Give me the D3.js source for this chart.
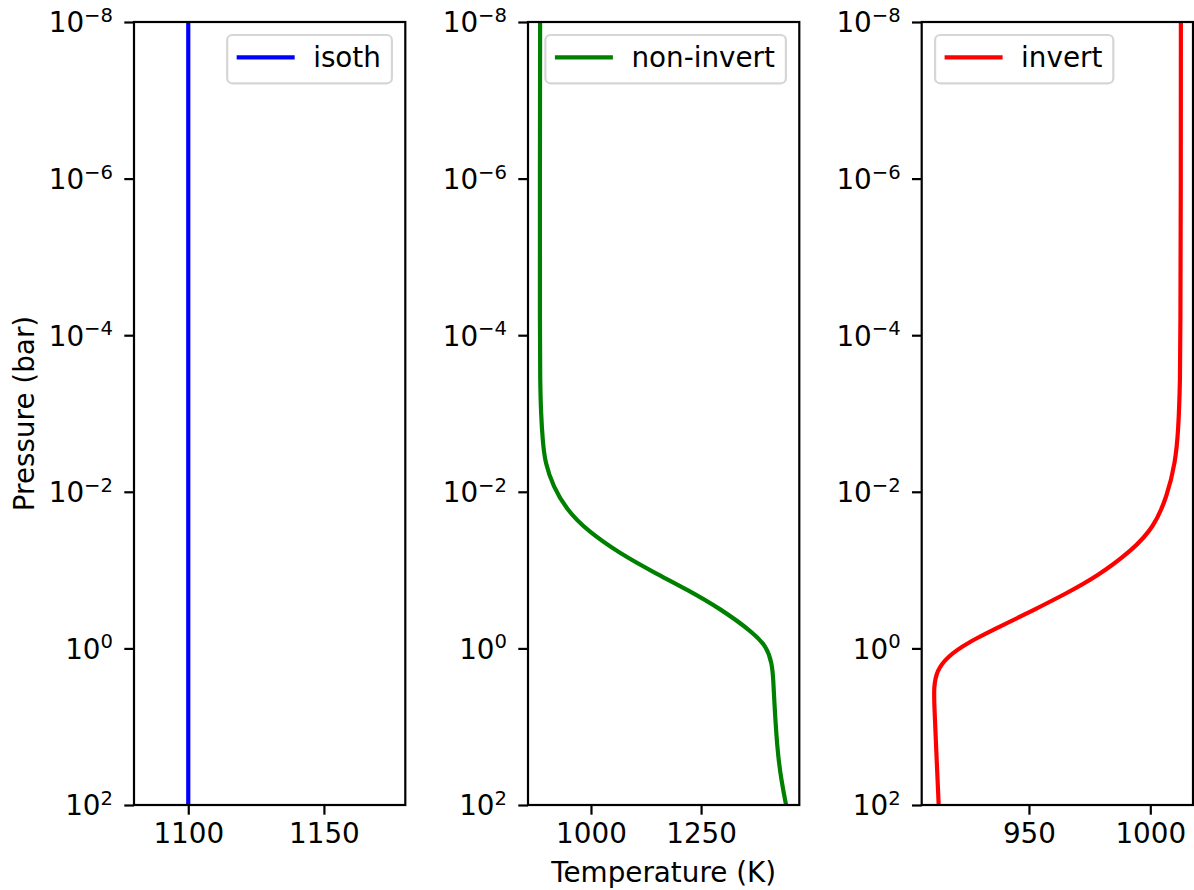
<!DOCTYPE html>
<html lang="en">
	<head>
		<meta charset="utf-8">
		<title>Temperature profiles</title>
		<script type="text/javascript" src="https://d3js.org/d3.v7.min.js"></script>
		<style type="text/css">
			body{
				margin: 0;
				background: #fff;
			}
			svg{
				display: block;
				font-family: "DejaVu Sans", sans-serif;
			}
		</style>
	</head>
	<body>
		<script type="text/javascript">

			// pressure levels (bar) and temperatures (K)
			var isothP = [1e-8, 1e2];
			var isothT = [1100, 1100];

			var nonInvP = [1e-8, 1e-6, 1e-4, 3.7e-4, 1e-3, 2.3e-3, 4.27e-3, 8.5e-3, 1.7e-2, 3.09e-2, 6.17e-2,
						   0.11, 0.178, 0.309, 0.631, 0.955, 1.55, 2.51, 4.57, 20, 47.9, 100];
			var nonInvT = [884.5, 884, 884, 884.5, 886.5, 890.5, 896, 914, 945, 990, 1066,
						   1147, 1219, 1293, 1369, 1399, 1411, 1414, 1416, 1423, 1432, 1443];

			var invP = [1e-8, 1e-6, 1e-4, 3.7e-4, 1.62e-3, 4.27e-3, 1.15e-2, 2.82e-2, 5.5e-2, 0.12,
						0.2, 0.324, 0.525, 0.851, 1.29, 1.91, 3.09, 6.17, 20, 100];
			var invT = [1012.6, 1012.6, 1012.4, 1012.3, 1011.6, 1010.3, 1006.9, 1001.5, 992.8, 978.2,
						965.2, 951.9, 938.2, 924.5, 916.2, 912.1, 910.7, 911.1, 911.8, 912.8];

			var names = ["isoth", "non-invert", "invert"];
			var colors = ["#0000ff", "#008000", "#ff0000"];
			var xDomains = [[1080, 1180], [857, 1473], [905.8, 1017.6]];
			var xTicks = [[1100, 1150], [1000, 1250], [950, 1000]];
			var yTickExp = [-8, -6, -4, -2, 0, 2];
			var legendLoc = ["right", "right", "left"];

			var W = 1194, H = 890;
			var fs = 27.8;
			var lefts = [134, 528, 921.7];
			var pw = 271.3;
			var plotTop = 22, plotBottom = 805;

			var svg = d3.select("body")
						.append("svg")
						.attr("width", W)
						.attr("height", H);

			var y = d3.scaleLog()
					.domain([1e2, 1e-8])
					.range([plotBottom, plotTop]);

			var series = [
				{p: isothP, t: isothT},
				{p: nonInvP, t: nonInvT},
				{p: invP, t: invT}
			];

			series.forEach(function(s, i) {
				var x0 = lefts[i];
				var x = d3.scaleLinear()
						.domain(xDomains[i])
						.range([x0, x0 + pw]);

				var g = svg.append("g").attr("class", "panel");

				// data line, basis spline to smooth reading noise
				var line = d3.line()
							.x(function(d) {return x(d[1]);})
							.y(function(d) {return y(d[0]);})
							.curve(d3.curveBasis);

				var pts = s.p.map(function(p, k) {return [p, s.t[k]];});

				g.append("clipPath")
					.attr("id", "clip" + i)
					.append("rect")
					.attr("x", x0).attr("y", plotTop)
					.attr("width", pw).attr("height", plotBottom - plotTop);

				g.append("path")
					.datum(pts)
					.attr("clip-path", "url(#clip" + i + ")")
					.attr("d", line)
					.attr("fill", "none")
					.attr("stroke", colors[i])
					.attr("stroke-width", 4.2);

				// x axis
				var xAxis = g.append("g")
							.attr("transform", "translate(0," + plotBottom + ")")
							.call(d3.axisBottom(x)
								.tickValues(xTicks[i])
								.tickSize(9.7)
								.tickPadding(9)
								.tickFormat(d3.format("d")));
				xAxis.select(".domain").remove();
				xAxis.selectAll(".tick line").attr("stroke-width", 2.2);
				xAxis.selectAll(".tick text")
					.attr("font-size", fs)
					.attr("font-family", "DejaVu Sans")
					.attr("fill", "#000");

				// y axis, superscript labels done by hand
				var yAxis = g.append("g")
							.attr("transform", "translate(" + x0 + ",0)")
							.call(d3.axisLeft(y)
								.tickValues(yTickExp.map(function(e) {return Math.pow(10, e);}))
								.tickSize(9.7)
								.tickFormat(""));
				yAxis.select(".domain").remove();
				yAxis.selectAll(".tick line").attr("stroke-width", 2.2);
				yAxis.selectAll(".tick text").remove();

				var lab = g.selectAll(".ylab")
							.data(yTickExp)
							.enter()
							.append("text")
							.attr("class", "ylab")
							.attr("x", x0 - 21)
							.attr("y", function(d) {return y(Math.pow(10, d)) + 10.3;})
							.attr("text-anchor", "end")
							.attr("font-size", fs)
							.attr("fill", "#000");
				lab.append("tspan").text("10");
				lab.append("tspan")
					.attr("dy", -10.4)
					.attr("font-size", 19.6)
					.text(function(d) {return d < 0 ? "\u2212" + (-d) : "" + d;});

				// frame
				g.append("rect")
					.attr("x", x0).attr("y", plotTop)
					.attr("width", pw).attr("height", plotBottom - plotTop)
					.attr("fill", "none")
					.attr("stroke", "#000")
					.attr("stroke-width", 2.2);

				// legend
				var leg = g.append("g");
				var txt = leg.append("text")
							.attr("font-size", fs)
							.attr("fill", "#000")
							.text(names[i]);
				var tw = txt.node().getComputedTextLength();
				var bw = 86 + tw + 11;
				var bx = legendLoc[i] == "right" ? x0 + pw - 13.4 - bw : x0 + 13.4;
				var by = 35;
				leg.insert("rect", "text")
					.attr("x", bx).attr("y", by)
					.attr("width", bw).attr("height", 48.3)
					.attr("rx", 5).attr("ry", 5)
					.attr("fill", "#fff")
					.attr("fill-opacity", 0.8)
					.attr("stroke", "#d6d6d6")
					.attr("stroke-width", 2.2);
				leg.insert("line", "text")
					.attr("x1", bx + 9.5).attr("x2", bx + 67.5)
					.attr("y1", by + 22.3).attr("y2", by + 22.3)
					.attr("stroke", colors[i])
					.attr("stroke-width", 4.2);
				txt.attr("x", bx + 86).attr("y", by + 31.7);
			});

			// axis titles
			svg.append("text")
				.attr("x", lefts[1] + pw / 2)
				.attr("y", 881.7)
				.attr("text-anchor", "middle")
				.attr("font-size", fs)
				.attr("fill", "#000")
				.text("Temperature (K)");

			svg.append("text")
				.attr("transform", "translate(34," + ((plotTop + plotBottom) / 2) + ") rotate(-90)")
				.attr("text-anchor", "middle")
				.attr("font-size", fs)
				.attr("fill", "#000")
				.text("Pressure (bar)");

		</script>
	</body>
</html>
